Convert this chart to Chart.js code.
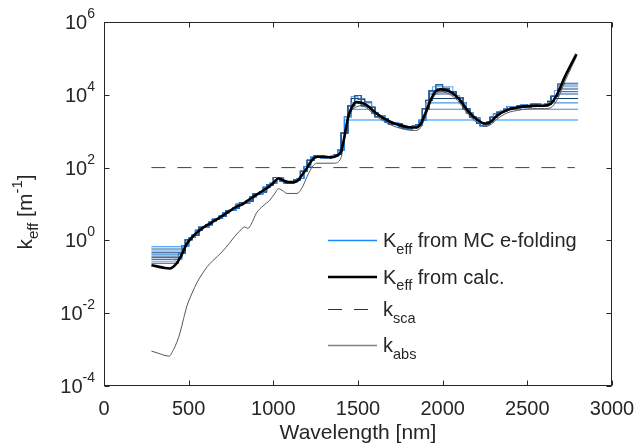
<!DOCTYPE html>
<html>
<head>
<meta charset="utf-8">
<script src="https://cdn.jsdelivr.net/npm/chart.js@4"></script>
<style>
  body { margin: 0; background: #fff; }
  #wrap { width: 638px; height: 445px; }
</style>
</head>
<body>
<div id="wrap"><canvas id="myChart" width="638" height="445"></canvas></div>
<script>
// ---- data (wavelength in nm, log10 of k in m^-1) ----
const calcWl = [280, 320, 360, 390, 420, 440, 460, 480, 500, 540, 580, 620, 660, 700, 740, 780, 820, 860, 900, 940, 970, 1000, 1030, 1060, 1080, 1110, 1140, 1170, 1200, 1230, 1260, 1300, 1340, 1380, 1400, 1420, 1440, 1460, 1490, 1520, 1550, 1600, 1650, 1700, 1750, 1800, 1840, 1870, 1900, 1930, 1960, 1990, 2020, 2050, 2100, 2150, 2200, 2250, 2280, 2320, 2380, 2440, 2500, 2560, 2600, 2640, 2680, 2720, 2760, 2790]
const calcLogK = [-0.68, -0.72, -0.76, -0.77, -0.68, -0.55, -0.38, -0.17, -0.02, 0.18, 0.33, 0.45, 0.56, 0.68, 0.8, 0.92, 1.0, 1.13, 1.25, 1.37, 1.46, 1.58, 1.7, 1.65, 1.6, 1.6, 1.63, 1.8, 2.0, 2.22, 2.3, 2.3, 2.28, 2.34, 2.45, 2.85, 3.35, 3.62, 3.8, 3.78, 3.72, 3.52, 3.36, 3.24, 3.16, 3.11, 3.1, 3.2, 3.52, 3.87, 4.1, 4.15, 4.13, 4.07, 3.87, 3.55, 3.33, 3.21, 3.25, 3.42, 3.58, 3.65, 3.69, 3.7, 3.7, 3.76, 4.05, 4.48, 4.85, 5.12]

const absWl = [280, 320, 360, 385, 410, 430, 450, 470, 490, 520, 550, 580, 610, 640, 670, 700, 740, 770, 800, 830, 850, 870, 900, 940, 980, 1010, 1030, 1060, 1080, 1140, 1170, 1200, 1230, 1256, 1300, 1354, 1394, 1415, 1433, 1460, 1492, 1520, 1550, 1600, 1650, 1700, 1750, 1800, 1840, 1870, 1900, 1930, 1960, 1990, 2020, 2050, 2100, 2150, 2200, 2250, 2280, 2320, 2380, 2440, 2500, 2560, 2600, 2640, 2680, 2720, 2760, 2790]
const absLogK = [-3.04, -3.1, -3.16, -3.18, -3.0, -2.8, -2.52, -2.15, -1.8, -1.45, -1.15, -0.92, -0.72, -0.57, -0.44, -0.3, -0.08, 0.1, 0.25, 0.37, 0.33, 0.45, 0.75, 0.95, 1.11, 1.3, 1.42, 1.35, 1.29, 1.29, 1.45, 1.76, 2.02, 2.12, 2.12, 2.12, 2.21, 2.6, 3.2, 3.55, 3.67, 3.7, 3.64, 3.44, 3.28, 3.16, 3.08, 3.03, 3.02, 3.1, 3.42, 3.8, 4.02, 4.08, 4.06, 3.99, 3.78, 3.46, 3.25, 3.13, 3.17, 3.33, 3.5, 3.57, 3.61, 3.62, 3.62, 3.65, 3.9, 4.35, 4.75, 5.05]

// Monte Carlo e-folding estimates (two sample grids)
const mcWlA = [280, 320, 360, 400, 440, 480, 520, 560, 600, 640, 680, 720, 760, 800, 840, 880, 920, 960, 1000, 1040, 1080, 1120, 1160, 1200, 1240, 1280, 1320, 1360, 1400, 1440, 1480, 1520, 1560, 1600, 1640, 1680, 1720, 1760, 1800, 1840, 1880, 1920, 1960, 2000, 2040, 2080, 2120, 2160, 2200, 2240, 2280, 2320, 2360, 2400, 2440, 2480, 2520, 2560, 2600, 2640, 2680, 2720, 2760, 2800]
const mcLogKA = [-0.68, -0.72, -0.76, -0.75, -0.52, -0.15, 0.08, 0.28, 0.36, 0.52, 0.6, 0.76, 0.83, 0.99, 1.02, 1.2, 1.28, 1.46, 1.57, 1.72, 1.58, 1.62, 1.7, 2.03, 2.28, 2.33, 2.27, 2.31, 2.48, 3.4, 3.95, 3.88, 3.8, 3.5, 3.42, 3.25, 3.22, 3.12, 3.05, 3.14, 3.3, 3.85, 4.3, 4.22, 4.25, 3.98, 3.78, 3.5, 3.36, 3.15, 3.26, 3.48, 3.55, 3.68, 3.62, 3.73, 3.68, 3.75, 3.7, 3.82, 4.12, 4.5, 4.9, 5.15]
const mcWlB = [280, 300, 340, 380, 420, 460, 500, 540, 580, 620, 660, 700, 740, 780, 820, 860, 900, 940, 980, 1020, 1060, 1100, 1140, 1180, 1220, 1260, 1300, 1340, 1380, 1420, 1460, 1500, 1540, 1580, 1620, 1660, 1700, 1740, 1780, 1820, 1860, 1900, 1940, 1980, 2020, 2060, 2100, 2140, 2180, 2220, 2260, 2300, 2340, 2380, 2420, 2460, 2500, 2540, 2580, 2620, 2660, 2700, 2740, 2780, 2800]
const mcLogKB = [-0.7, -0.7, -0.74, -0.78, -0.66, -0.36, 0.02, 0.14, 0.36, 0.43, 0.58, 0.66, 0.82, 0.88, 1.04, 1.08, 1.27, 1.33, 1.52, 1.73, 1.63, 1.57, 1.66, 1.9, 2.2, 2.32, 2.27, 2.3, 2.36, 2.95, 3.7, 3.98, 3.7, 3.66, 3.4, 3.34, 3.2, 3.2, 3.08, 3.12, 3.18, 3.62, 4.12, 4.28, 4.18, 4.08, 3.92, 3.62, 3.38, 3.22, 3.2, 3.38, 3.52, 3.6, 3.64, 3.7, 3.66, 3.74, 3.69, 3.74, 3.96, 4.3, 4.7, 5.05, 5.1]
// lower and upper limits of each MC run (m^-1)
const mcFloor = [0.67, 0.58, 0.51, 0.46, 0.415, 0.37, 0.335, 0.30, 0.267, 0.235]
const mcCap = [2040, 20700, 6000, 14500, 4000, 18600, 7900, 12200, 16600, 10500]

const scaWl = [280, 2780]
const scaK = [100, 100]

const xTicks = [0, 500, 1000, 1500, 2000, 2500, 3000]
const yTickExp = [-4, -2, 0, 2, 4, 6]

const legendItems = [
    { main: "K", sub: "eff", rest: " from MC e-folding" },
    { main: "K", sub: "eff", rest: " from calc." },
    { main: "k", sub: "sca", rest: "" },
    { main: "k", sub: "abs", rest: "" }
]

// ---- styles ----
const mcColors = ['#1a8cff', '#2b5f9e', '#4f95e8', '#1c4677', '#3d8ee0', '#5b7fb0', '#173f6e', '#2f7fd8', '#6aa6ea', '#245a96']
const legendStyles = [
    { color: '#1a8cff', width: 1.5, dash: [] },
    { color: '#000000', width: 2.5, dash: [] },
    { color: '#333333', width: 1, dash: [14, 12] },
    { color: '#808080', width: 1.5, dash: [] }
]
const FONT = '"Liberation Sans", Arial, sans-serif'
const TXT = '#262626'

const toPoints = (wl, logK) => wl.map((w, i) => ({ x: w, y: 10 ** logK[i] }))

const datasets = []
datasets.push({
    data: toPoints(calcWl, calcLogK),
    borderColor: '#000', borderWidth: 2.6,
    cubicInterpolationMode: 'monotone', pointRadius: 0
})
datasets.push({
    data: toPoints(absWl, absLogK),
    borderColor: '#555', borderWidth: 1,
    cubicInterpolationMode: 'monotone', pointRadius: 0
})
datasets.push({
    data: scaWl.map((w, i) => ({ x: w, y: scaK[i] })),
    borderColor: '#404040', borderWidth: 1, borderDash: [14, 12], pointRadius: 0
})
mcFloor.forEach((fl, i) => {
    const wl = i % 2 ? mcWlB : mcWlA
    const lk = i % 2 ? mcLogKB : mcLogKA
    datasets.push({
        data: wl.map((w, j) => ({ x: w, y: Math.min(mcCap[i], Math.max(fl, 10 ** lk[j])) })),
        borderColor: mcColors[i], borderWidth: 1.1, stepped: 'middle', pointRadius: 0
    })
})

function drawRich(ctx, parts, x, y) {
    // parts: [{t, size, dy}] drawn left to right from x on baseline y
    let cx = x
    parts.forEach(p => {
        ctx.font = p.size + 'px ' + FONT
        ctx.fillText(p.t, cx, y + (p.dy || 0))
        cx += ctx.measureText(p.t).width
    })
    return cx
}
function richWidth(ctx, parts) {
    let w = 0
    parts.forEach(p => { ctx.font = p.size + 'px ' + FONT; w += ctx.measureText(p.t).width })
    return w
}

const axesDecor = {
    id: 'axesDecor',
    afterDraw(chart) {
        const { ctx, chartArea: a, scales: { x, y } } = chart
        ctx.save()
        ctx.strokeStyle = TXT
        ctx.lineWidth = 1
        const L = Math.round(a.left) + 0.5, R = Math.round(a.right) - 0.5
        const T = Math.round(a.top) + 0.5, B = Math.round(a.bottom) - 0.5
        ctx.strokeRect(L, T, R - L, B - T)
        ctx.beginPath()
        xTicks.forEach(v => {
            const px = Math.round(x.getPixelForValue(v)) + 0.5
            ctx.moveTo(px, B); ctx.lineTo(px, B - 5)
            ctx.moveTo(px, T); ctx.lineTo(px, T + 5)
        })
        yTickExp.forEach(e => {
            const py = Math.round(y.getPixelForValue(10 ** e)) + 0.5
            ctx.moveTo(L, py); ctx.lineTo(L + 5, py)
            ctx.moveTo(R, py); ctx.lineTo(R - 5, py)
        })
        ctx.stroke()

        ctx.fillStyle = TXT
        ctx.textBaseline = 'alphabetic'
        // x tick labels
        ctx.font = '20px ' + FONT
        ctx.textAlign = 'center'
        xTicks.forEach(v => ctx.fillText(String(v), x.getPixelForValue(v), 415))
        // y tick labels 10^n
        ctx.textAlign = 'left'
        yTickExp.forEach(e => {
            const py = y.getPixelForValue(10 ** e)
            const parts = [{ t: '10', size: 20 }, { t: String(e), size: 14, dy: -11 }]
            const w = richWidth(ctx, parts)
            drawRich(ctx, parts, 95 - w, py + 7)
        })
        // x title
        ctx.font = '21px ' + FONT
        ctx.textAlign = 'center'
        ctx.fillText('Wavelength [nm]', (a.left + a.right) / 2, 439)
        // y title
        ctx.textAlign = 'left'
        const yParts = [
            { t: 'k', size: 21 }, { t: 'eff', size: 15, dy: 6 },
            { t: ' [m', size: 21 }, { t: '-1', size: 15, dy: -10 }, { t: ']', size: 21 }
        ]
        const yw = richWidth(ctx, yParts)
        ctx.save()
        ctx.translate(32, 212)
        ctx.rotate(-Math.PI / 2)
        drawRich(ctx, yParts, -yw / 2, 0)
        ctx.restore()

        // legend
        const rows = [240, 276.5, 309, 345]
        legendItems.forEach((it, i) => {
            const st = legendStyles[i]
            ctx.strokeStyle = st.color
            ctx.lineWidth = st.width
            ctx.setLineDash(st.dash)
            ctx.beginPath()
            ctx.moveTo(328, rows[i] + 0.5); ctx.lineTo(377, rows[i] + 0.5)
            ctx.stroke()
            ctx.setLineDash([])
            ctx.fillStyle = TXT
            drawRich(ctx, [
                { t: it.main, size: 20 }, { t: it.sub, size: 14.5, dy: 6.5 }, { t: it.rest, size: 20 }
            ], 383, rows[i] + 7)
        })
        ctx.restore()
    }
}

const ctx = document.getElementById('myChart').getContext('2d')
const myChart = new Chart(ctx, {
    type: 'line',
    data: { datasets: datasets },
    options: {
        responsive: false,
        animation: false,
        layout: { padding: { left: 104, right: 26, top: 22, bottom: 59 } },
        plugins: { legend: { display: false }, tooltip: { enabled: false } },
        scales: {
            x: { type: 'linear', min: 0, max: 3000, display: false },
            y: { type: 'logarithmic', min: 1e-4, max: 1e6, display: false }
        }
    },
    plugins: [axesDecor]
})
</script>
</body>
</html>
